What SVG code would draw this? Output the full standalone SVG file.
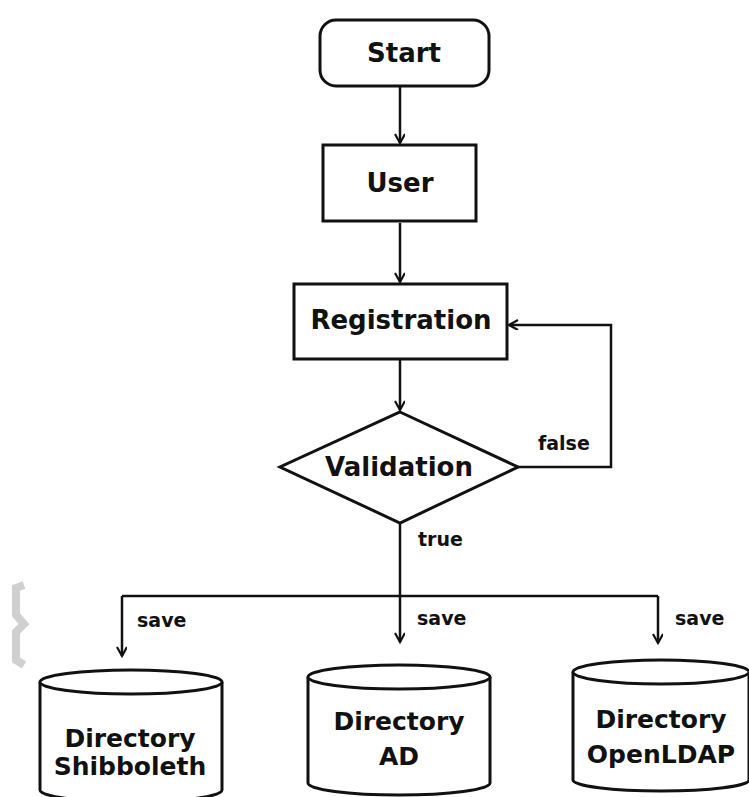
<svg xmlns="http://www.w3.org/2000/svg" width="749" height="797" viewBox="0 0 749 797">
<defs>
<marker id="ah" markerWidth="12" markerHeight="12" refX="10" refY="5" orient="auto" markerUnits="userSpaceOnUse"><path d="M1,0 L10,5 L1,10" fill="none" stroke="#111" stroke-width="2.2"/></marker>
<style>
.n{fill:#fff;stroke:#111;stroke-width:3}
.t{font-family:"DejaVu Sans","Liberation Sans",sans-serif;font-weight:bold;fill:#111;text-anchor:middle}
.c{fill:none;stroke:#111;stroke-width:2.5}
.l{font-family:"DejaVu Sans","Liberation Sans",sans-serif;font-weight:bold;fill:#111;font-size:19px}
</style>
</defs>
<rect width="749" height="797" fill="#fff"/>
<path d="M24,585 L16,588 L16,615 L24,624 L16,632 L16,660 L24,665" fill="none" stroke="#d0d0d0" stroke-width="8"/>
<g id="connectors">
<path class="c" d="M400,86 L400,143" marker-end="url(#ah)"/>
<path class="c" d="M400,223 L400,282" marker-end="url(#ah)"/>
<path class="c" d="M400,360 L400,410" marker-end="url(#ah)"/>
<path class="c" d="M518,467 L611,467 L611,325 L509,325" marker-end="url(#ah)"/>
<path class="c" d="M400,523 L400,596"/>
<path class="c" d="M122,596 L658,596"/>
<path class="c" d="M122,596 L122,656" marker-end="url(#ah)"/>
<path class="c" d="M400,596 L400,642" marker-end="url(#ah)"/>
<path class="c" d="M658,596 L658,643" marker-end="url(#ah)"/>
<text class="l" x="538" y="450">false</text>
<text class="l" x="418" y="546">true</text>
<text class="l" x="137" y="627">save</text>
<text class="l" x="417" y="625">save</text>
<text class="l" x="675" y="625">save</text>
</g>
<g id="start">
<rect class="n" x="320" y="20" width="169" height="66" rx="16"/>
<text class="t" x="404" y="62" font-size="26">Start</text>
</g>
<g id="user">
<rect class="n" x="323" y="145" width="153" height="76"/>
<text class="t" x="400" y="192" font-size="26">User</text>
</g>
<g id="registration">
<rect class="n" x="294" y="284" width="213" height="75"/>
<text class="t" x="401" y="329" font-size="26">Registration</text>
</g>
<g id="validation">
<polygon class="n" points="400,412 518,467 400,523 280,467"/>
<text class="t" x="399" y="476" font-size="26">Validation</text>
</g>
<g id="shibboleth">
<path class="n" d="M40,682 L40,790 A91,12 0 0 0 222,790 L222,682"/>
<ellipse class="n" cx="131" cy="682" rx="91" ry="12"/>
<text class="t" x="130" y="747" font-size="25">Directory</text>
<text class="t" x="130" y="775" font-size="25">Shibboleth</text>
</g>
<g id="ad">
<path class="n" d="M308,677 L308,783 A91,12 0 0 0 490,783 L490,677"/>
<ellipse class="n" cx="399" cy="677" rx="91" ry="12"/>
<text class="t" x="399" y="730" font-size="25">Directory</text>
<text class="t" x="399" y="765" font-size="25">AD</text>
</g>
<g id="openldap">
<path class="n" d="M573,672 L573,780 A88,11 0 0 0 749,780 L749,672"/>
<ellipse class="n" cx="661" cy="672" rx="88" ry="12"/>
<text class="t" x="661" y="728" font-size="25">Directory</text>
<text class="t" x="661" y="763" font-size="25">OpenLDAP</text>
</g>
</svg>
